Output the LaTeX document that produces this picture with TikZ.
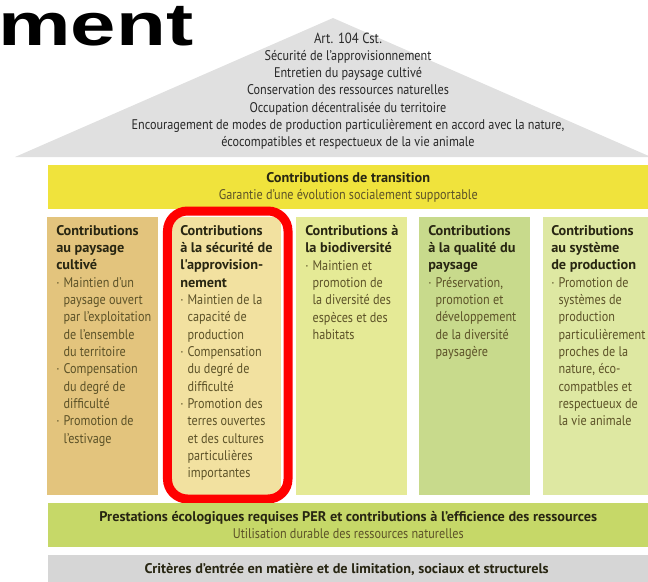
\documentclass[tikz,border=0pt]{standalone}
\usepackage{fontspec}
\setmainfont{PT Sans}[FakeStretch=0.87]
\newfontfamily\headface{PT Sans}[FakeStretch=1.02]
\newfontfamily\titlefont{Liberation Sans}[FakeStretch=1.36]

\definecolor{roofgrey}{RGB}{224,224,224}
\definecolor{transyellow}{RGB}{240,227,60}
\definecolor{pergreen}{RGB}{198,216,104}
\definecolor{critgrey}{RGB}{214,214,214}
\definecolor{colA}{RGB}{227,196,125}
\definecolor{colB}{RGB}{242,225,160}
\definecolor{colC}{RGB}{229,234,150}
\definecolor{colD}{RGB}{200,218,140}
\definecolor{colE}{RGB}{222,232,162}
\definecolor{headtxt}{RGB}{40,38,18}
\definecolor{bodytxt}{RGB}{92,82,40}
\definecolor{rooftxt}{RGB}{40,40,40}

\newcommand{\itm}{\makebox[5.5pt][l]{·}}
\newcommand{\cnt}{\hspace*{5.5pt}}
\newcommand{\hd}[1]{{\headface\bfseries\color{headtxt}#1}}

\begin{document}
\begin{tikzpicture}[
				x = 0.75pt,
				y = -0.75pt,
				col/.style = {
					anchor = north west,
					inner sep = 0pt,
					minimum width = 83.25pt,
					minimum height = 208.5pt
				},
				coltext/.style = {
					anchor = north west,
					inner sep = 0pt,
					align = left,
					text = bodytxt,
					font = \fontsize{10.5}{13}\selectfont
				},
				band/.style = {
					anchor = north west,
					inner sep = 0pt,
					minimum width = 450pt,
					align = center,
					text = bodytxt,
					font = \fontsize{10.5}{12.9}\selectfont
				},
				highlight/.style = {
					draw = red,
					line width = 6.75pt,
					rounded corners = 15pt,
					minimum width = 90.4pt,
					minimum height = 216pt
				}
			]
			\useasboundingbox (0,0) rectangle (648,581);
			\node[anchor=base west, inner sep=0pt, font=\titlefont\bfseries\fontsize{45}{45}\selectfont] (title) at (-2,46) {ment};
			\coordinate (eaveL) at (15,157);
			\coordinate (ridge) at (333,18);
			\coordinate (eaveR) at (651,157);
			\fill[roofgrey] (eaveL) -- (ridge) -- (eaveR) -- cycle;
			\node[align=center, text=rooftxt, font=\fontsize{10.5}{12.9}\selectfont] (art) at (348,91) {
				{\fontsize{11}{12.9}\selectfont Art. 104 Cst.}\\
				Sécurité de l’approvisionnement\\
				Entretien du paysage cultivé\\
				Conservation des ressources naturelles\\
				Occupation décentralisée du territoire\\
				Encouragement de modes de production particulièrement en accord avec la nature,\\
				écocompatibles et respectueux de la vie animale
			};
			\node[band, fill=transyellow, minimum height=33pt] (trans) at (48,165) {
				\hd{Contributions de transition}\\
				Garantie d’une évolution socialement supportable
			};
			\node[col, fill=colA] (cA) at (47,217) {};
			\node[col, fill=colB] (cB) at (170,217) {};
			\node[col, fill=colC] (cC) at (296,217) {};
			\node[col, fill=colD] (cD) at (419,217) {};
			\node[col, fill=colE] (cE) at (543,217) {};
			\node[coltext] (tA) at ([shift={(9,8)}]cA.north west) {
				\hd{Contributions}\\
				\hd{au paysage}\\
				\hd{cultivé}\\
				\itm Maintien d’un\\
				\cnt paysage ouvert\\
				\cnt par l’exploitation\\
				\cnt de l’ensemble\\
				\cnt du territoire\\
				\itm Compensation\\
				\cnt du degré de\\
				\cnt difficulté\\
				\itm Promotion de\\
				\cnt l’estivage
			};
			\node[coltext] (tB) at ([shift={(10,8)}]cB.north west) {
				\hd{Contributions}\\
				\hd{à la sécurité de}\\
				\hd{l'approvision-}\\
				\hd{nement}\\
				\itm Maintien de la\\
				\cnt capacité de\\
				\cnt production\\
				\itm Compensation\\
				\cnt du degré de\\
				\cnt difficulté\\
				\itm Promotion des\\
				\cnt terres ouvertes\\
				\cnt et des cultures\\
				\cnt particulières\\
				\cnt importantes
			};
			\node[coltext] (tC) at ([shift={(9,8)}]cC.north west) {
				\hd{Contributions à}\\
				\hd{la biodiversité}\\
				\itm Maintien et\\
				\cnt promotion de\\
				\cnt la diversité des\\
				\cnt espèces et des\\
				\cnt habitats
			};
			\node[coltext] (tD) at ([shift={(9,8)}]cD.north west) {
				\hd{Contributions}\\
				\hd{à la qualité du}\\
				\hd{paysage}\\
				\itm Préservation,\\
				\cnt promotion et\\
				\cnt développement\\
				\cnt de la diversité\\
				\cnt paysagère
			};
			\node[coltext] (tE) at ([shift={(8,8)}]cE.north west) {
				\hd{Contributions}\\
				\hd{au système}\\
				\hd{de production}\\
				\itm Promotion de\\
				\cnt systèmes de\\
				\cnt production\\
				\cnt particulièrement\\
				\cnt proches de la\\
				\cnt nature, éco-\\
				\cnt compatbles et\\
				\cnt respectueux de\\
				\cnt la vie animale
			};
			\node[highlight] (hl) at (227.75,355) {};
			\node[band, fill=pergreen, minimum height=33pt] (per) at (48,503) {
				\hd{Prestations écologiques requises PER et contributions à l’efficience des ressources}\\
				Utilisation durable des ressources naturelles
			};
			\node[band, fill=critgrey, minimum height=21pt] (crit) at (48,555) {
				\hd{Critères d’entrée en matière et de limitation, sociaux et structurels}
			};
		\end{tikzpicture}
\end{document}
